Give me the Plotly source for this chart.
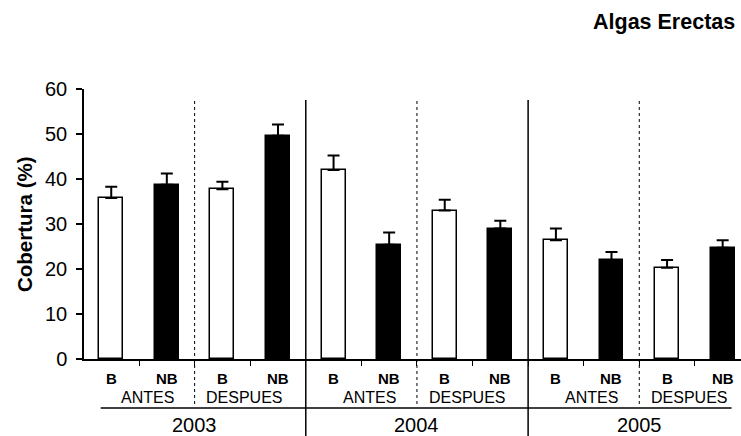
import plotly.graph_objects as go
import numpy as np

# ---- data ----
years = ["2003", "2004", "2005"]
periods = ["ANTES", "DESPUES"]
sites = ["B", "NB"]
cobertura = [35.8, 38.7, 37.7, 49.6, 42.0, 25.4, 33.0, 29.0, 26.4, 21.9, 20.3, 24.7]
error_sup = [2.5, 2.5, 1.7, 2.5, 3.2, 2.7, 2.4, 1.7, 2.6, 1.9, 1.7, 1.7]
y_ticks = [0, 10, 20, 30, 40, 50, 60]

FONT = "Liberation Sans, Arial, sans-serif"
W, H = 741, 436
ML, MT, MB = 84, 89, 77
plot_h = H - MT - MB


def py(pix):
    """pixel row -> paper y"""
    return (H - MB - pix) / plot_h


n = len(cobertura)
xs = np.arange(n)
site_lab = [sites[i % 2] for i in range(n)]
colors = ["white" if s == "B" else "black" for s in site_lab]

fig = go.Figure()
fig.add_trace(go.Bar(
    x=xs, y=cobertura, width=0.43,
    marker=dict(color=colors, line=dict(color="black", width=1.5)),
    error_y=dict(type="data", array=error_sup, arrayminus=[0] * n, symmetric=False,
                 color="black", thickness=2, width=6),
    showlegend=False,
))

shapes = []
annots = []
n_per_year = len(periods) * len(sites)
for yi in range(len(years)):
    base = yi * n_per_year
    xd = base + len(sites) - 0.5
    shapes.append(dict(type="line", xref="x", yref="paper", x0=xd, x1=xd,
                       y0=py(101), y1=py(406), line=dict(color="black", width=1, dash="dot")))
    if yi < len(years) - 1:
        xsol = base + n_per_year - 0.5
        shapes.append(dict(type="line", xref="x", yref="paper", x0=xsol, x1=xsol,
                           y0=py(100), y1=py(436), line=dict(color="black", width=1.5)))
    annots.append(dict(text=years[yi], x=base + (n_per_year - 1) / 2, xref="x",
                       y=py(425), yref="paper", yanchor="middle", showarrow=False,
                       font=dict(size=20, family=FONT, color="black")))
    for pi, per in enumerate(periods):
        pb = base + pi * len(sites)
        shift = 8 if per == "ANTES" else -6
        annots.append(dict(text=per, x=pb + 0.5, xref="x", xshift=shift,
                           y=py(397), yref="paper", yanchor="middle", showarrow=False,
                           font=dict(size=16, family=FONT, color="black")))

for i in range(n):
    annots.append(dict(text="<b>%s</b>" % site_lab[i], x=xs[i], xref="x",
                       y=py(378), yref="paper", yanchor="middle", showarrow=False,
                       font=dict(size=15, family=FONT, color="black")))

shapes.append(dict(type="line", xref="x", yref="paper", x0=-0.19, x1=11.16,
                   y0=py(408), y1=py(408), line=dict(color="black", width=1.5)))

annots.append(dict(text="<b>Algas Erectas</b>", xref="paper", x=1, xanchor="right", xshift=-4,
                   y=py(22), yref="paper", yanchor="middle", showarrow=False,
                   font=dict(size=21.5, family=FONT, color="black")))
annots.append(dict(text="<b>Cobertura (%)</b>", xref="paper", x=(24 - ML) / (W - ML),
                   xanchor="center", y=0.5, yref="paper", yanchor="middle",
                   textangle=-90, showarrow=False,
                   font=dict(size=20.5, family=FONT, color="black")))

fig.update_layout(
    width=W, height=H,
    margin=dict(l=ML, r=0, t=MT, b=MB, pad=0),
    plot_bgcolor="white", paper_bgcolor="white",
    font=dict(family=FONT, color="black"),
    shapes=shapes, annotations=annots,
    xaxis=dict(range=[-0.49, 11.33], showgrid=False, zeroline=False,
               showline=True, linecolor="black", linewidth=1.5,
               tickvals=list(xs[:-1] + 0.5), ticktext=[""] * (n - 1),
               ticks="outside", ticklen=5, tickwidth=1, tickcolor="black"),
    yaxis=dict(range=[0, 60], tickvals=y_ticks, showgrid=False, zeroline=False,
               showline=True, linecolor="black", linewidth=1.5,
               ticks="outside", ticklen=6, tickwidth=1.5, tickcolor="black",
               tickfont=dict(size=20, family=FONT, color="black"),
               ticklabelstandoff=5),
    bargap=0,
)

fig.write_html("out.html")
